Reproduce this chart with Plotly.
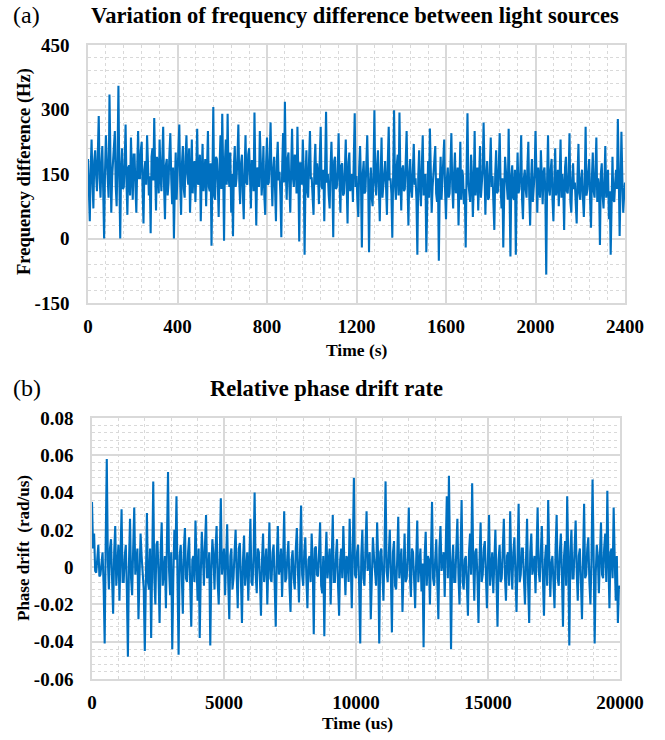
import plotly.graph_objects as go

# ---------------- data ----------------
freq_time_step = 4  # s
freq_diff_hz = [
    185, 120, 40, 160, 230, 135, 70, 180, 205, 150, 110, 200, 285, 140, 95, 175, 215, 110, 0, 155,
    240, 185, 130, 95, 335, 170, 60, 145, 190, 205, 250, 120, 75, 190, 355, 140, 0, 165, 210, 115,
    120, 180, 265, 130, 55, 165, 170, 100, 235, 150, 90, 195, 195, 120, 60, 170, 250, 140, 140, 205,
    225, 110, 35, 160, 180, 125, 240, 175, 100, 145, 12, 190, 210, 135, 280, 160, 65, 190, 175, 105,
    230, 150, 110, 185, 260, 120, 45, 170, 185, 100, 130, 200, 245, 140, 80, 165, 0, 125, 200, 90,
    150, 195, 265, 130, 55, 175, 215, 115, 95, 190, 240, 150, 125, 210, 60, 135, 230, 105, 170, 180,
    85, 160, 255, 125, 135, 195, 40, 145, 220, 110, 160, 185, 75, 150, 250, 120, 110, 175, -17, 140,
    306, 100, 90, 190, 185, 130, 50, 170, 240, 115, 290, 160, -5, 180, 230, 125, 290, 145, 120, 200,
    60, 150, 5, 170, 215, 120, 140, 190, 265, 135, 80, 175, 195, 105, 45, 160, 240, 130, 125, 195,
    210, 145, 70, 180, 180, 110, 293, 150, 30, 165, 160, 120, 250, 185, 100, 140, 215, 100, 55, 175,
    235, 125, 130, 190, 270, 145, 75, 160, 190, 115, 40, 180, 225, 135, 155, 100, 3, 170, 245, 130,
    318, 155, 90, 185, 200, 120, 60, 165, 255, 140, 120, 195, 185, 105, 260, 150, -7, 175, 175, 125,
    230, 160, -38, 135, 205, 110, 95, 185, 250, 140, 140, 95, 55, 170, 220, 125, 175, 150, 80, 190,
    260, 120, 115, 160, 40, 175, 295, 130, 150, 100, 70, 165, 225, 140, 3, 180, 190, 115, 120, 155,
    245, 135, 60, 170, 175, 100, 105, 160, 230, 125, 35, 175, 200, 110, 130, 150, 85, 185, 291, 120,
    145, 90, 50, 165, 215, 130, -21, 150, 180, 105, 110, 175, 240, 140, -32, 120, 165, 95, 75, 160,
    298, 130, 100, 170, 205, 115, 40, 150, 235, 95, 125, 165, 180, 120, 55, 180, 260, 135, 140, 105,
    2, 155, 298, 125, 90, 170, 195, 100, 293, 145, 65, 160, 170, 110, 115, 180, 250, 130, 30, 150,
    185, 110, 95, 160, 220, 125, 140, 90, -38, 145, 205, 115, 75, 170, 240, 100, 120, 150, -32, 135,
    180, 95, 256, 160, 60, 120, 155, 175, 215, 105, 85, 140, -52, 120, 190, 90, 130, 165, 230, 110,
    45, 140, 165, 95, 105, 170, 245, 120, 70, 150, 200, 105, 135, 165, 30, 125, 225, 90, 160, 145,
    80, 115, -21, 160, 291, 130, 110, 85, 195, 150, 50, 120, 250, 100, 140, 165, 65, 135, 215, 95,
    120, 160, 270, 110, 55, 145, 180, 90, 95, 165, 235, 120, 145, 80, 20, 150, 205, 105, 110, 170,
    245, 125, 70, 140, -21, 100, 190, 155, 130, 90, 255, 130, -42, 145, 170, 95, 90, 160, -38, 120,
    200, 105, 115, 155, 240, 90, 45, 140, 160, 115, 95, 170, 225, 100, 30, 135, 185, 85, 125, 150,
    250, 110, 60, 165, 140, 95, 205, 130, 80, 155, 165, 105, -84, 140, 240, 115, 100, 160, 185, 90,
    40, 130, 210, 100, 120, 160, 75, 145, 230, 95, 150, 120, 20, 165, 190, 110, 105, 150, 245, 85,
    60, 135, 175, 115, 130, 80, 35, 150, 220, 105, 90, 140, 160, 95, 50, 125, 260, 100, 115, 155,
    185, 90, 25, 140, 200, 110, 95, 160, 235, 85, 140, 120, -15, 150, 175, 100, 70, 135, 215, 95,
    120, 160, 45, 110, -38, 145, 190, 90, 85, 130, 160, 115, 278, 150, 6, 120, 248, 140, 60, 100,
    130,
]
freq_time_s = [i * freq_time_step for i in range(len(freq_diff_hz))]

phase_time_step = 40  # us
phase_drift = [
    0.035, 0.010, 0.018, -0.002, -0.003, 0.004, 0.012, -0.005, -0.004, 0.002, 0.008, -0.010, -0.041, 0.015, 0.058, 0.004, -0.012, 0.010, 0.015, -0.006,
    -0.025, 0.008, 0.022, -0.010, 0.003, 0.012, -0.018, 0.004, 0.031, -0.008, -0.008, 0.006, 0.012, -0.012, -0.048, 0.002, 0.026, -0.006, -0.015, 0.010,
    0.032, -0.004, 0.004, 0.010, -0.028, -0.002, 0.018, 0.006, -0.006, -0.012, -0.045, 0.004, 0.029, -0.008, -0.012, 0.010, -0.038, 0.002, 0.046, -0.006,
    -0.020, 0.012, 0.014, -0.004, -0.030, 0.008, 0.024, -0.010, 0.002, 0.006, -0.022, 0.012, 0.051, -0.002, -0.015, 0.008, -0.044, -0.006, 0.020, 0.004,
    0.038, -0.008, -0.047, 0.006, 0.012, -0.004, -0.025, 0.010, 0.021, -0.006, -0.008, 0.008, 0.016, -0.010, -0.032, 0.004, 0.006, -0.008, 0.025, 0.002,
    -0.018, 0.010, -0.038, -0.004, 0.019, 0.006, -0.010, 0.012, 0.028, -0.006, -0.004, 0.008, -0.042, -0.002, 0.015, 0.006, -0.012, 0.010, 0.022, -0.008,
    -0.020, 0.006, 0.037, -0.004, 0.005, 0.010, -0.015, 0.002, 0.023, -0.008, -0.028, 0.006, 0.010, -0.012, -0.006, 0.008, 0.020, -0.004, -0.022, 0.010,
    0.013, -0.006, -0.030, 0.004, 0.017, -0.010, 0.002, 0.008, -0.018, 0.004, 0.026, -0.008, -0.010, 0.006, 0.040, -0.004, -0.014, 0.010, 0.008, -0.006,
    -0.026, 0.004, 0.018, -0.008, 0.004, 0.010, -0.020, 0.002, 0.024, -0.006, -0.008, 0.008, 0.012, -0.010, -0.032, 0.006, 0.022, -0.004, 0.000, 0.010,
    -0.016, 0.004, 0.030, -0.008, -0.006, 0.006, 0.014, -0.010, -0.024, 0.004, 0.009, -0.006, -0.012, 0.010, 0.021, -0.002, -0.019, 0.008, 0.033, -0.004,
    -0.010, 0.008, 0.016, -0.006, -0.022, 0.004, 0.006, -0.008, 0.018, 0.002, -0.036, 0.010, 0.011, -0.004, -0.005, 0.008, 0.024, -0.010, -0.014, 0.006,
    -0.037, 0.002, 0.019, -0.006, 0.003, 0.010, -0.020, 0.004, 0.028, -0.008, -0.008, 0.006, 0.015, -0.010, -0.026, 0.004, 0.010, -0.006, 0.022, 0.002,
    -0.015, 0.006, 0.004, -0.008, 0.026, 0.004, -0.022, 0.010, 0.048, -0.004, -0.006, 0.008, 0.012, -0.010, -0.041, 0.006, 0.020, -0.006, -0.010, 0.010,
    0.030, -0.002, 0.002, 0.008, -0.028, -0.004, 0.016, 0.006, -0.004, -0.010, 0.024, 0.004, -0.041, 0.008, 0.010, -0.006, -0.018, 0.010, 0.046, -0.002,
    -0.008, 0.006, 0.020, -0.004, -0.035, 0.008, 0.014, -0.010, -0.012, 0.004, 0.027, -0.006, 0.000, 0.010, -0.024, 0.002, 0.018, -0.008, -0.006, 0.006,
    0.032, -0.004, -0.016, 0.010, 0.008, -0.006, -0.022, 0.004, 0.025, -0.008, 0.004, 0.010, -0.013, 0.002, -0.043, 0.006, 0.019, -0.010, 0.006, 0.004,
    -0.020, 0.008, 0.035, -0.006, -0.010, 0.004, 0.015, -0.008, -0.028, 0.010, 0.022, -0.002, 0.002, 0.008, -0.016, 0.004, 0.038, -0.006, 0.049, 0.006,
    -0.044, 0.002, 0.012, -0.008, -0.008, 0.010, 0.026, -0.004, -0.020, 0.006, 0.036, -0.008, -0.012, 0.004, 0.006, -0.010, -0.026, 0.008, 0.018, -0.004,
    0.045, 0.004, -0.018, 0.008, 0.010, -0.006, -0.030, 0.004, 0.024, -0.008, -0.004, 0.010, 0.014, -0.004, -0.022, 0.006, 0.028, -0.010, 0.003, 0.008,
    -0.014, 0.002, 0.020, -0.006, -0.032, 0.004, 0.012, -0.008, -0.006, 0.010, 0.026, -0.004, -0.018, 0.006, 0.008, -0.010, 0.030, 0.002, -0.012, 0.008,
    0.016, -0.004, -0.024, 0.006, 0.034, -0.008, -0.004, 0.010, 0.010, -0.006, -0.020, 0.004, 0.026, -0.010, -0.030, 0.008, 0.018, -0.004, 0.002, 0.006,
    -0.014, 0.010, 0.032, -0.002, -0.008, 0.008, 0.022, -0.006, -0.026, 0.004, 0.012, -0.010, 0.036, 0.006, -0.016, 0.002, 0.006, -0.008, -0.022, 0.010,
    0.028, -0.006, -0.010, 0.008, 0.018, -0.004, -0.032, 0.006, 0.014, -0.010, 0.038, 0.004, -0.042, 0.008, 0.020, -0.006, -0.006, 0.010, 0.025, -0.002,
    -0.018, 0.006, 0.010, -0.008, -0.028, 0.004, 0.034, -0.006, -0.004, 0.010, 0.016, -0.008, -0.020, 0.004, 0.047, 0.008, -0.041, -0.004, 0.012, 0.006,
    -0.014, 0.006, 0.024, -0.004, -0.006, 0.010, 0.018, -0.008, 0.041, 0.004, -0.022, 0.008, 0.010, -0.006, 0.032, 0.004, -0.018, 0.006, -0.030, -0.010,
    -0.012,
]
phase_time_us = [i * phase_time_step for i in range(len(phase_drift))]

top_yticks = [-150, 0, 150, 300, 450]
top_yticklabels = ["-150", "0", "150", "300", "450"]
top_xticks = [0, 400, 800, 1200, 1600, 2000, 2400]
top_xticklabels = ["0", "400", "800", "1200", "1600", "2000", "2400"]
bot_yticks = [-0.06, -0.04, -0.02, 0, 0.02, 0.04, 0.06, 0.08]
bot_yticklabels = ["-0.06", "-0.04", "-0.02", "0", "0.02", "0.04", "0.06", "0.08"]
bot_xticks = [0, 5000, 10000, 15000, 20000]
bot_xticklabels = ["0", "5000", "10000", "15000", "20000"]

# ---------------- figure ----------------
W, H = 665, 740
FONT = "Liberation Serif, Times New Roman, serif"
LINE = "#0070C0"
GRID = "#d9d9d9"

fig = go.Figure()
fig.add_trace(go.Scatter(x=freq_time_s, y=freq_diff_hz, mode="lines",
                         line=dict(color=LINE, width=2.1), xaxis="x", yaxis="y",
                         showlegend=False))
fig.add_trace(go.Scatter(x=phase_time_us, y=phase_drift, mode="lines",
                         line=dict(color=LINE, width=2.1), xaxis="x2", yaxis="y2",
                         showlegend=False))


def px_x(p):
    return p / W


def px_y(p):
    return 1 - p / H


tick_font = dict(family=FONT, size=19, color="black", weight="bold")

common = dict(showline=True, linecolor=GRID, linewidth=1.5, mirror=True,
              showgrid=True, gridcolor=GRID, gridwidth=1.5, zeroline=False,
              ticks="", tickfont=tick_font, automargin=False)


def minor(d):
    return dict(dtick=d, showgrid=True, gridcolor=GRID, griddash="dot", gridwidth=1)


fig.update_layout(
    width=W, height=H,
    margin=dict(l=0, r=0, t=0, b=0),
    paper_bgcolor="white", plot_bgcolor="white",
    xaxis=dict(domain=[px_x(88), px_x(625)], range=[0, 2400], anchor="y",
               tickvals=top_xticks, ticktext=top_xticklabels, ticklabelstandoff=5,
               minor=minor(80), **common),
    yaxis=dict(domain=[px_y(303), px_y(45)], range=[-150, 450], anchor="x",
               tickvals=top_yticks, ticktext=top_yticklabels, ticklabelstandoff=13,
               minor=minor(30), **common),
    xaxis2=dict(domain=[px_x(92), px_x(620)], range=[0, 20000], anchor="y2",
                tickvals=bot_xticks, ticktext=bot_xticklabels, ticklabelstandoff=5,
                minor=minor(1000), **common),
    yaxis2=dict(domain=[px_y(679), px_y(418)], range=[-0.06, 0.08], anchor="x2",
                tickvals=bot_yticks, ticktext=bot_yticklabels, ticklabelstandoff=13,
                minor=minor(0.004), **common),
)


def ann(text, x, y, size, bold=True, angle=0, xanchor="center"):
    fig.add_annotation(text=text, x=px_x(x), y=px_y(y), xref="paper", yref="paper",
                       showarrow=False, textangle=angle, xanchor=xanchor, yanchor="middle",
                       font=dict(family=FONT, size=size, color="black",
                                 weight="bold" if bold else "normal"))


ann("(a)", 11, 15, 24, bold=False, xanchor="left")
ann("Variation of frequency difference between light sources", 355, 15, 22.5)
ann("Frequency difference (Hz)", 24, 172, 18.5, angle=-90)
ann("Time (s)", 357, 350, 17.5)

ann("(b)", 11, 388, 24, bold=False, xanchor="left")
ann("Relative phase drift rate", 326, 389, 22.5)
ann("Phase drift  (rad/us)", 23, 548, 17, angle=-90)
ann("Time (us)", 357, 723, 17.5)

fig.write_html("out.html", config={"displayModeBar": False},
               post_script="document.body.style.margin='0';document.body.style.overflow='hidden';")
